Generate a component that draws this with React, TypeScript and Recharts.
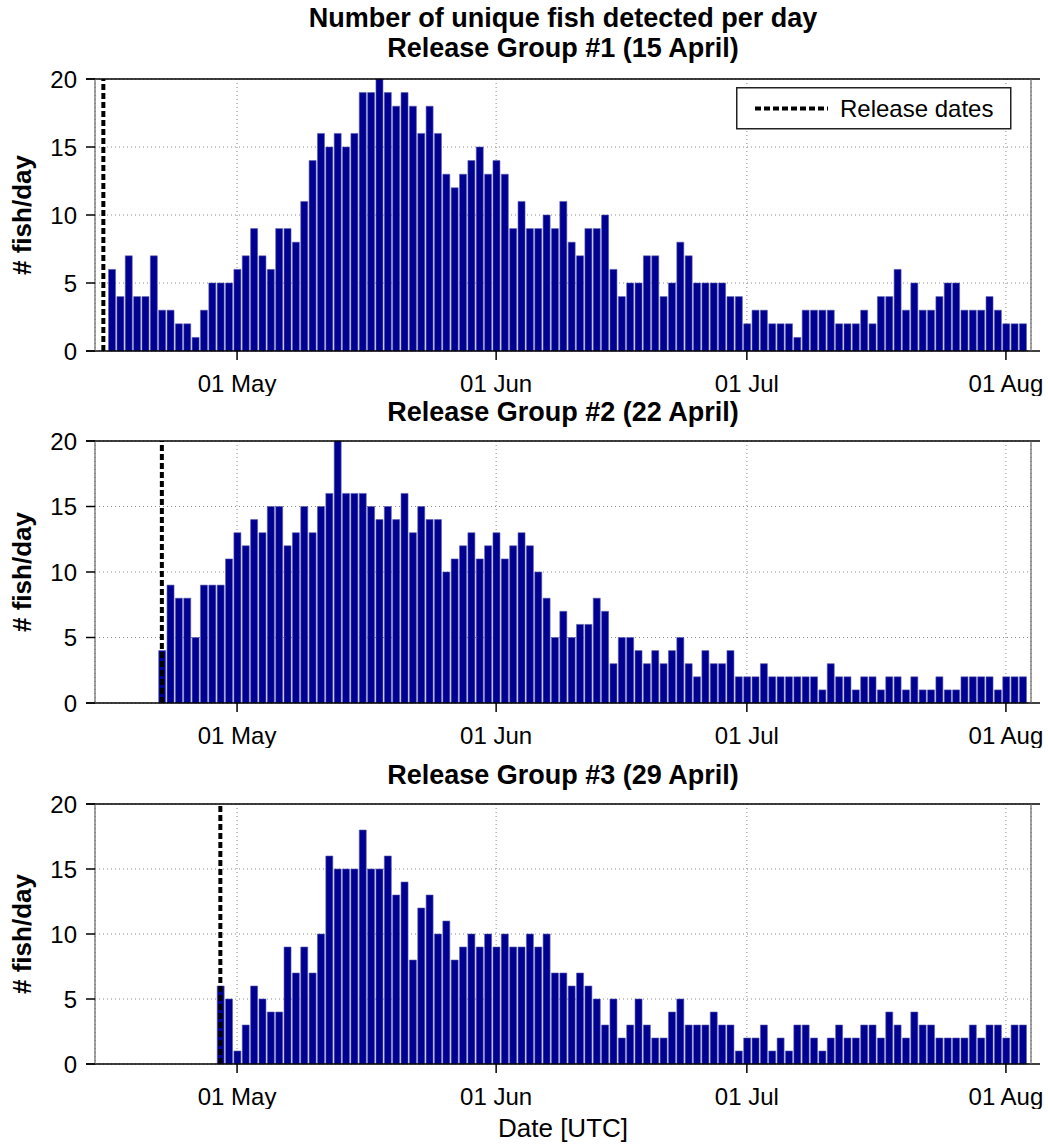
import React from "react";
import {
    BarChart,
    Bar,
    XAxis,
    YAxis,
    CartesianGrid,
    ReferenceLine,
    Legend,
} from "recharts";

// x values are days counted from 1 April (1 April = 0)
const tickDays = [30, 61, 91, 122];
const tickLabels = ["01 May", "01 Jun", "01 Jul", "01 Aug"];
const yTicks = [0, 5, 10, 15, 20];
const xDomain = [13, 125];

const mainTitle = "Number of unique fish detected per day";
const groupTitles = [
    "Release Group #1 (15 April)",
    "Release Group #2 (22 April)",
    "Release Group #3 (29 April)",
];
const releaseDays = [14, 21, 28];
const firstBarDays = [15, 21, 28];
const yLabel = "# fish/day";
const xLabel = "Date [UTC]";
const legendLabel = "Release dates";

// fish per day, one value per day from the first bar day
const group1Counts = [
    6, 4, 7, 4, 4, 7, 3, 3, 2, 2, 1, 3, 5, 5, 5, 6, 7, 9, 7, 6, 9, 9, 8, 11, 14, 16, 15, 16, 15, 16,
    19, 19, 20, 19, 18, 19, 18, 16, 18, 16, 13, 12, 13, 14, 15, 13, 14, 13, 9, 11, 9, 9, 10, 9, 11,
    8, 7, 9, 9, 10, 6, 4, 5, 5, 7, 7, 4, 5, 8, 7, 5, 5, 5, 5, 4, 4, 2, 3, 3, 2, 2, 2, 1, 3, 3, 3, 3,
    2, 2, 2, 3, 2, 4, 4, 6, 3, 5, 3, 3, 4, 5, 5, 3, 3, 3, 4, 3, 2, 2, 2,
];
const group2Counts = [
    4, 9, 8, 8, 5, 9, 9, 9, 11, 13, 12, 14, 13, 15, 15, 12, 13, 15, 13, 15, 16, 20, 16, 16, 16, 15,
    14, 15, 14, 16, 13, 15, 14, 14, 10, 11, 12, 13, 11, 12, 13, 11, 12, 13, 12, 10, 8, 5, 7, 5, 6, 6,
    8, 7, 3, 5, 5, 4, 3, 4, 3, 4, 5, 3, 2, 4, 3, 3, 4, 2, 2, 2, 3, 2, 2, 2, 2, 2, 2, 1, 3, 2, 2, 1,
    2, 2, 1, 2, 2, 1, 2, 1, 1, 2, 1, 1, 2, 2, 2, 2, 1, 2, 2, 2,
];
const group3Counts = [
    6, 5, 1, 3, 6, 5, 4, 4, 9, 7, 9, 7, 10, 16, 15, 15, 15, 18, 15, 15, 16, 13, 14, 8, 12, 13, 10,
    11, 8, 9, 10, 9, 10, 9, 10, 9, 9, 10, 9, 10, 7, 7, 6, 7, 6, 5, 3, 5, 2, 3, 5, 3, 2, 2, 4, 5, 3,
    3, 3, 4, 3, 3, 1, 2, 2, 3, 1, 2, 1, 3, 3, 2, 1, 2, 3, 2, 2, 3, 3, 2, 4, 3, 2, 4, 3, 3, 2, 2, 2,
    2, 3, 2, 3, 3, 2, 3, 3,
];
const groupCounts = [group1Counts, group2Counts, group3Counts];

// page geometry of each subplot (pixels)
const panels = [
    { plotTop: 79, plotBottom: 351, titleTop: 35 },
    { plotTop: 441, plotBottom: 703, titleTop: 399 },
    { plotTop: 804, plotBottom: 1064, titleTop: 762 },
];

const FONT = '"Liberation Sans", Arial, Helvetica, sans-serif';
const BAR_COLOR = "#000091";
const TICK_LEN = 9;
const PLOT_LEFT = 95;
const PLOT_RIGHT = 1031;
const TOP_SPACE = 40;
const BOTTOM_AXIS = 45;
const DASH_WIDTH = 4;

// box lines overhang the side axes by one tick length
const overhang = (TICK_LEN * (xDomain[1] - xDomain[0])) / (PLOT_RIGHT - PLOT_LEFT);

const renderYLabel = (props: any) => {
    const vb = props.viewBox || {};
    const cx = 31;
    const cy = vb.y + vb.height / 2;
    return (
        <text
            x={cx}
            y={cy}
            transform={`rotate(-90, ${cx}, ${cy})`}
            textAnchor="middle"
            fontSize={26}
            fontWeight="bold"
            fill="#000"
        >
            {yLabel}
        </text>
    );
};

const ReleaseLegend = () => (
    <svg width={276} height={43} style={{ display: "block" }}>
        <rect x={0.75} y={0.75} width={274} height={41} fill="#fff" stroke="#222" strokeWidth={1.5} />
        <line x1={19} x2={92} y1={21.5} y2={21.5} stroke="#000" strokeWidth={DASH_WIDTH} strokeDasharray="6 3" />
        <text x={104} y={21.5} dominantBaseline="central" fontSize={24} fill="#000">
            {legendLabel}
        </text>
    </svg>
);

const Panel = ({ index }: { index: number }) => {
    const { plotTop, plotBottom } = panels[index];
    const data = groupCounts[index].map((count, i) => ({ day: firstBarDays[index] + i, count }));
    const chartTop = plotTop - TOP_SPACE;
    const height = TOP_SPACE + (plotBottom - plotTop) + BOTTOM_AXIS;

    return (
        <div style={{ position: "absolute", left: 0, top: chartTop }}>
            <BarChart
                width={1048}
                height={height}
                data={data}
                margin={{ top: TOP_SPACE - TICK_LEN, right: 0, bottom: 0, left: 0 }}
            >
                <CartesianGrid stroke="#8a8a8a" strokeDasharray="1 3" />
                <XAxis
                    dataKey="day"
                    type="number"
                    domain={xDomain}
                    allowDataOverflow
                    ticks={tickDays}
                    tickFormatter={(v) => tickLabels[tickDays.indexOf(v)] ?? ""}
                    tick={{ fill: "#000", fontSize: 24 }}
                    tickSize={TICK_LEN}
                    tickMargin={15}
                    tickLine={{ stroke: "#000", strokeWidth: 1.5 }}
                    axisLine={false}
                    height={BOTTOM_AXIS}
                    interval={0}
                />
                <XAxis
                    xAxisId="top"
                    orientation="top"
                    dataKey="day"
                    type="number"
                    domain={xDomain}
                    allowDataOverflow
                    ticks={tickDays}
                    tick={false}
                    tickSize={TICK_LEN}
                    tickLine={{ stroke: "#000", strokeWidth: 1.5 }}
                    axisLine={false}
                    height={TICK_LEN}
                    interval={0}
                />
                <YAxis
                    domain={[0, 20]}
                    ticks={yTicks}
                    width={PLOT_LEFT}
                    tick={{ fill: "#000", fontSize: 24 }}
                    tickSize={TICK_LEN}
                    tickMargin={9}
                    tickLine={{ stroke: "#000", strokeWidth: 1.5 }}
                    axisLine={{ stroke: "#666", strokeWidth: 1.2 }}
                    interval={0}
                    label={{ value: yLabel, content: renderYLabel }}
                />
                <YAxis
                    yAxisId="right"
                    orientation="right"
                    domain={[0, 20]}
                    ticks={yTicks}
                    width={1048 - PLOT_RIGHT}
                    tick={false}
                    tickSize={TICK_LEN}
                    tickLine={{ stroke: "#000", strokeWidth: 1.5 }}
                    axisLine={{ stroke: "#666", strokeWidth: 1.2 }}
                    interval={0}
                />
                <Bar
                    dataKey="count"
                    fill={BAR_COLOR}
                    stroke="#5c5cae"
                    strokeWidth={0.6}
                    barSize={7}
                    isAnimationActive={false}
                />
                <ReferenceLine
                    x={releaseDays[index]}
                    stroke="#000"
                    strokeWidth={DASH_WIDTH}
                    strokeDasharray="6 3"
                    ifOverflow="visible"
                />
                <ReferenceLine
                    segment={[
                        { x: xDomain[0] - overhang, y: 20 },
                        { x: xDomain[1] + overhang, y: 20 },
                    ]}
                    stroke="#000"
                    strokeWidth={1.5}
                    ifOverflow="visible"
                />
                <ReferenceLine
                    segment={[
                        { x: xDomain[0] - overhang, y: 0 },
                        { x: xDomain[1] + overhang, y: 0 },
                    ]}
                    stroke="#000"
                    strokeWidth={1.5}
                    ifOverflow="visible"
                />
                {index === 0 && (
                    <Legend
                        layout="vertical"
                        align="center"
                        verticalAlign="middle"
                        content={ReleaseLegend}
                        wrapperStyle={{ position: "absolute", left: 736, top: 87 - chartTop, width: 276, height: 43 }}
                    />
                )}
            </BarChart>
        </div>
    );
};

const titleStyle: React.CSSProperties = {
    position: "absolute",
    left: 63,
    width: 1000,
    textAlign: "center",
    fontSize: 27,
    lineHeight: "27px",
    fontWeight: "bold",
    whiteSpace: "nowrap",
};

const App = () => {
    return (
        <div
            style={{
                position: "absolute",
                left: 0,
                top: 0,
                width: 1048,
                height: 1145,
                background: "#fff",
                fontFamily: FONT,
                color: "#000",
            }}
        >
            <div style={{ ...titleStyle, top: 5 }}>{mainTitle}</div>
            {panels.map((p, i) => (
                <div key={"t" + i} style={{ ...titleStyle, top: p.titleTop }}>
                    {groupTitles[i]}
                </div>
            ))}
            {panels.map((_, i) => (
                <Panel key={i} index={i} />
            ))}
            <div
                style={{
                    position: "absolute",
                    left: 63,
                    width: 1000,
                    top: 1115,
                    textAlign: "center",
                    fontSize: 26,
                    lineHeight: "26px",
                }}
            >
                {xLabel}
            </div>
        </div>
    );
};

export default App;
